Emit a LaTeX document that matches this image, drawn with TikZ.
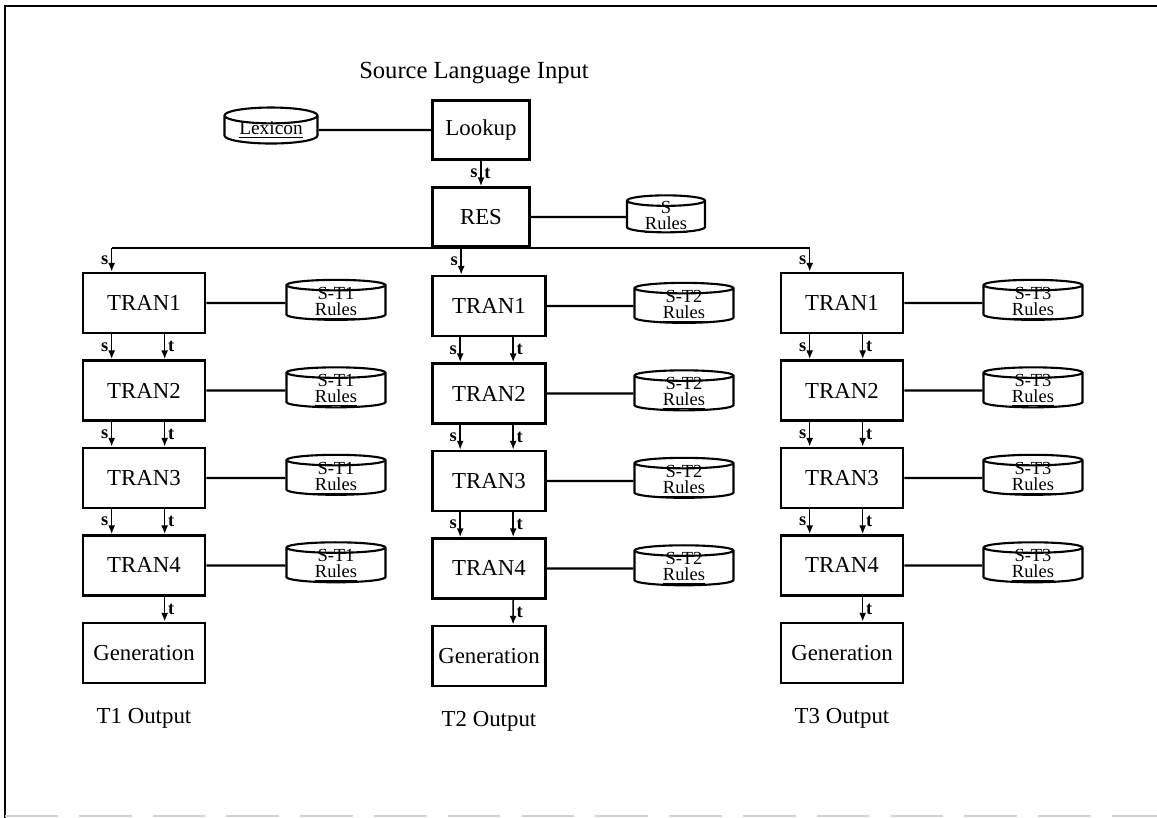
\documentclass[tikz,border=0pt]{standalone}
\usepackage{fontspec}
\setmainfont{Liberation Serif}
\usetikzlibrary{positioning,shapes.geometric,arrows.meta}

\tikzset{
  proc/.style={draw, line width=1.5pt, minimum width=2.44cm, minimum height=1.2cm,
    font=\fontsize{13}{14}\selectfont},
  rules/.style={draw, cylinder, shape border rotate=90, aspect=0.25, line width=1.2pt,
    minimum width=1.98cm, minimum height=0.8cm, inner xsep=0pt, inner ysep=-8pt,
    align=center, font=\fontsize{10.5}{9.2}\selectfont},
  link/.style={line width=1.2pt},
  flow/.style={line width=0.9pt, -{Latex[length=5pt,width=4pt]}},
  lbl/.style={font=\fontsize{10.5}{10}\selectfont\bfseries, inner sep=1.5pt},
  outp/.style={font=\fontsize{13}{14}\selectfont},
}

\begin{document}
\begin{tikzpicture}[x=0.02cm, y=-0.02cm, node distance=1.75cm]
\useasboundingbox (0,0) rectangle (1157,818);
% frame
\draw[line width=1.6pt] (5,818) -- (5,6) -- (1157,6);
\draw[gray!35, line width=1pt, dash pattern=on 30pt off 12pt] (5,816) -- (1157,816);

\node (src) at (474,73) [font=\fontsize{14}{16}\selectfont] {Source Language Input};
\node (L) at (481,130) [proc, minimum width=1.94cm, minimum height=1.18cm] {Lookup};
\node (R) at (481,217) [proc, minimum width=1.94cm, minimum height=1.18cm] {RES};
\node (lx) at (271,130) [rules, minimum width=1.86cm, minimum height=0.72cm, font=\fontsize{11}{12}\selectfont] {\raisebox{-4pt}{\underline{Lexicon}}};
\node (sr) at (666,217) [rules, minimum width=1.56cm, minimum height=0.74cm] {S\\\underline{Rules}};

% column 1
\node (A1) at (144,303) [proc] {TRAN1};
\node (A2) [proc, below of=A1] {TRAN2};
\node (A3) [proc, below of=A2] {TRAN3};
\node (A4) [proc, below of=A3] {TRAN4};
\node (AG) [proc, below of=A4] {Generation};
\node (ao) [outp, node distance=1.3cm, below of=AG] {T1 Output};
\node (a1) [rules, node distance=3.84cm, right of=A1] {S-T1\\\underline{Rules}};
\node (a2) [rules, node distance=3.84cm, right of=A2] {S-T1\\\underline{Rules}};
\node (a3) [rules, node distance=3.84cm, right of=A3] {S-T1\\\underline{Rules}};
\node (a4) [rules, node distance=3.84cm, right of=A4] {S-T1\\\underline{Rules}};

% column 2
\node (B1) at (489,306) [proc, minimum width=2.26cm] {TRAN1};
\node (B2) [proc, minimum width=2.26cm, below of=B1] {TRAN2};
\node (B3) [proc, minimum width=2.26cm, below of=B2] {TRAN3};
\node (B4) [proc, minimum width=2.26cm, below of=B3] {TRAN4};
\node (BG) [proc, minimum width=2.26cm, below of=B4] {Generation};
\node (bo) [outp, node distance=1.3cm, below of=BG] {T2 Output};
\node (b1) [rules, node distance=3.9cm, right of=B1] {S-T2\\\underline{Rules}};
\node (b2) [rules, node distance=3.9cm, right of=B2] {S-T2\\\underline{Rules}};
\node (b3) [rules, node distance=3.9cm, right of=B3] {S-T2\\\underline{Rules}};
\node (b4) [rules, node distance=3.9cm, right of=B4] {S-T2\\\underline{Rules}};

% column 3
\node (C1) at (842,303) [proc] {TRAN1};
\node (C2) [proc, below of=C1] {TRAN2};
\node (C3) [proc, below of=C2] {TRAN3};
\node (C4) [proc, below of=C3] {TRAN4};
\node (CG) [proc, below of=C4] {Generation};
\node (co) [outp, node distance=1.3cm, below of=CG] {T3 Output};
\node (c1) [rules, node distance=3.82cm, right of=C1] {S-T3\\\underline{Rules}};
\node (c2) [rules, node distance=3.82cm, right of=C2] {S-T3\\\underline{Rules}};
\node (c3) [rules, node distance=3.82cm, right of=C3] {S-T3\\\underline{Rules}};
\node (c4) [rules, node distance=3.82cm, right of=C4] {S-T3\\\underline{Rules}};

% top part
\draw[link] (lx) -- (L);
\draw[link] (R) -- (sr);
\draw[flow] (L) -- (R) node[lbl, midway, left] {s} node[lbl, midway, right] {t};
\coordinate (sa) at ([xshift=0.6cm]A1.north west);
\coordinate (sb) at ([xshift=0.6cm]B1.north west);
\coordinate (sc) at ([xshift=0.6cm]C1.north west);
\draw[link] (sa |- R.south) -- (sc |- R.south);
\draw[flow] (sa |- R.south) -- (sa) node[lbl, midway, left] {s};
\draw[flow] (sb |- R.south) -- (sb) node[lbl, midway, left] {s};
\draw[flow] (sc |- R.south) -- (sc) node[lbl, midway, left] {s};

% rule links
\draw[link] (A1) -- (a1);
\draw[link] (A2) -- (a2);
\draw[link] (A3) -- (a3);
\draw[link] (A4) -- (a4);
\draw[link] (B1) -- (b1);
\draw[link] (B2) -- (b2);
\draw[link] (B3) -- (b3);
\draw[link] (B4) -- (b4);
\draw[link] (C1) -- (c1);
\draw[link] (C2) -- (c2);
\draw[link] (C3) -- (c3);
\draw[link] (C4) -- (c4);

% s and t arrows, column 1
\draw[flow] ([xshift=0.6cm]A1.south west) -- ([xshift=0.6cm]A2.north west) node[lbl, midway, left] {s};
\draw[flow] ([xshift=1.66cm]A1.south west) -- ([xshift=1.66cm]A2.north west) node[lbl, midway, right] {t};
\draw[flow] ([xshift=0.6cm]A2.south west) -- ([xshift=0.6cm]A3.north west) node[lbl, midway, left] {s};
\draw[flow] ([xshift=1.66cm]A2.south west) -- ([xshift=1.66cm]A3.north west) node[lbl, midway, right] {t};
\draw[flow] ([xshift=0.6cm]A3.south west) -- ([xshift=0.6cm]A4.north west) node[lbl, midway, left] {s};
\draw[flow] ([xshift=1.66cm]A3.south west) -- ([xshift=1.66cm]A4.north west) node[lbl, midway, right] {t};
\draw[flow] ([xshift=1.66cm]A4.south west) -- ([xshift=1.66cm]AG.north west) node[lbl, midway, right] {t};

% column 2
\draw[flow] ([xshift=0.58cm]B1.south west) -- ([xshift=0.58cm]B2.north west) node[lbl, midway, left] {s};
\draw[flow] ([xshift=1.64cm]B1.south west) -- ([xshift=1.64cm]B2.north west) node[lbl, midway, right] {t};
\draw[flow] ([xshift=0.58cm]B2.south west) -- ([xshift=0.58cm]B3.north west) node[lbl, midway, left] {s};
\draw[flow] ([xshift=1.64cm]B2.south west) -- ([xshift=1.64cm]B3.north west) node[lbl, midway, right] {t};
\draw[flow] ([xshift=0.58cm]B3.south west) -- ([xshift=0.58cm]B4.north west) node[lbl, midway, left] {s};
\draw[flow] ([xshift=1.64cm]B3.south west) -- ([xshift=1.64cm]B4.north west) node[lbl, midway, right] {t};
\draw[flow] ([xshift=1.64cm]B4.south west) -- ([xshift=1.64cm]BG.north west) node[lbl, midway, right] {t};

% column 3
\draw[flow] ([xshift=0.6cm]C1.south west) -- ([xshift=0.6cm]C2.north west) node[lbl, midway, left] {s};
\draw[flow] ([xshift=1.66cm]C1.south west) -- ([xshift=1.66cm]C2.north west) node[lbl, midway, right] {t};
\draw[flow] ([xshift=0.6cm]C2.south west) -- ([xshift=0.6cm]C3.north west) node[lbl, midway, left] {s};
\draw[flow] ([xshift=1.66cm]C2.south west) -- ([xshift=1.66cm]C3.north west) node[lbl, midway, right] {t};
\draw[flow] ([xshift=0.6cm]C3.south west) -- ([xshift=0.6cm]C4.north west) node[lbl, midway, left] {s};
\draw[flow] ([xshift=1.66cm]C3.south west) -- ([xshift=1.66cm]C4.north west) node[lbl, midway, right] {t};
\draw[flow] ([xshift=1.66cm]C4.south west) -- ([xshift=1.66cm]CG.north west) node[lbl, midway, right] {t};
\end{tikzpicture}
\end{document}
